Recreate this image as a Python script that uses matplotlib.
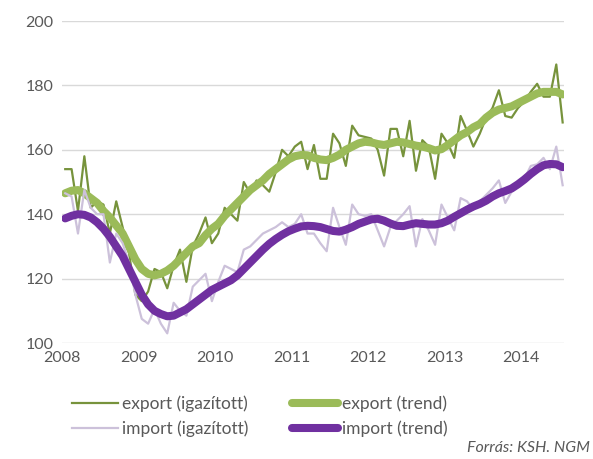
import numpy as np
import matplotlib
matplotlib.use("Agg")
import matplotlib.pyplot as plt

# monthly data, 2008 Jan - 2014 Jul
start_year = 2008

export_adj = [154, 154, 141, 158, 142, 144, 143, 134, 144, 136,
              128, 115, 113, 116, 123, 122, 117, 124, 129, 119,
              130, 134, 139, 131, 134, 142, 140, 138, 150, 146.5,
              150.5, 149, 147, 153, 160, 158, 161, 162.5, 154, 161.5,
              151, 151, 165, 162, 155, 167.5, 164.5, 164, 163.5, 160,
              152, 166.5, 166.5, 158, 169, 153.5, 163, 161, 151, 165,
              162, 157.5, 170.5, 166, 161, 165, 170, 173, 178.5, 170.5,
              170, 173, 175, 178, 180.5, 176.5, 176.5, 186.5, 168.5]

export_trend = [146.5, 147.3, 147.5, 146.5, 145, 143.5, 141, 139, 136.5, 134,
                130, 126, 123, 121.5, 121, 121.5, 122.5, 124, 126, 128,
                130, 131, 133.5, 135.5, 137, 139.5, 141.5, 143.5, 145.5, 147.5,
                149, 150.5, 152.5, 154, 155.5, 157, 158, 158.4, 158.3, 157.5,
                157, 156.8, 157.5, 158.5, 160, 161, 162, 162.5, 162.3, 161.8,
                161.5, 162, 162.5, 162.3, 161.8, 161.3, 161, 160.5, 159.8, 160.2,
                161.5, 163, 164.5, 165.5, 167, 168, 170, 171.5, 172.5, 173,
                173.5, 174.5, 175.5, 176.5, 177.5, 178, 178, 178, 177.2]

import_adj = [146.5, 145.5, 134, 147.5, 142, 140, 140, 125, 134, 131,
              125, 115, 107.5, 106, 110.5, 106, 103, 112.5, 110, 108.5,
              117.5, 119.5, 121.5, 113, 119, 124, 123, 122, 129, 130,
              132, 134, 135, 136, 137.5, 136, 137, 140, 134, 134,
              131, 128.5, 142, 136, 130.5, 143, 140, 139.5, 140, 135,
              130, 136, 138, 140, 142.5, 130, 138.5, 135, 130.5, 143,
              139, 135, 145, 144, 141.5, 144, 146, 148, 150.5, 143.5,
              147, 149, 151, 155, 155.5, 157.5, 154, 161, 149]

import_trend = [138.7, 139.5, 140, 139.8, 139, 137.5, 135.5, 133, 130, 127,
                123, 119, 115, 112, 110, 109, 108.3, 108.5, 109.5, 110.5,
                112, 113.5, 115, 116.5, 117.5, 118.5, 119.5, 121, 123, 125,
                127, 129, 130.8, 132.3, 133.6, 134.7, 135.5, 136.2, 136.4, 136.3,
                136, 135.4, 134.8, 134.6, 135.2, 136, 137, 137.7, 138.4, 138.6,
                138, 137.1, 136.4, 136.3, 136.8, 137.2, 137, 136.8, 136.8, 137.2,
                138, 139.2, 140.3, 141.4, 142.4, 143.2, 144.2, 145.5, 146.5, 147.2,
                148, 149.3, 150.8, 152.5, 154, 155.2, 155.6, 155.5, 154.6]

year_ticks = [2008, 2009, 2010, 2011, 2012, 2013, 2014]
y_ticks = [100, 120, 140, 160, 180, 200]

# mid-month positions on a year scale
months = np.arange(len(export_adj))
x = start_year + (months + 0.5) / 12.0

plt.rcParams["font.family"] = ["Lato", "DejaVu Sans"]
text_color = "#595959"

fig = plt.figure(figsize=(5.93, 4.59), dpi=100)
ax = fig.add_axes([0.1046, 0.2527, 0.8466, 0.7015])

ax.plot(x, export_adj, color="#77933C", lw=1.6, label="export (igazított)", zorder=3)
ax.plot(x, export_trend, color="#9BBB59", lw=5.8, solid_capstyle="round",
        label="export (trend)", zorder=4)
ax.plot(x, import_adj, color="#CCC1DA", lw=1.6, label="import (igazított)", zorder=5)
ax.plot(x, import_trend, color="#7030A0", lw=5.8, solid_capstyle="round",
        label="import (trend)", zorder=6)

ax.set_xlim(2008, 2014.56)
ax.set_ylim(100, 200)
ax.set_xticks(year_ticks)
ax.set_yticks(y_ticks)
ax.tick_params(axis="both", length=0, labelsize=11.5, colors=text_color, pad=6)
ax.grid(axis="y", color="#D9D9D9", lw=1)
ax.set_axisbelow(True)
for s in ax.spines.values():
    s.set_visible(False)

# legend: two columns under the plot
h, l = ax.get_legend_handles_labels()
order = [0, 2, 1, 3]
fig.legend([h[i] for i in order], [l[i] for i in order], ncol=2,
           loc="upper left", bbox_to_anchor=(0.121, 0.139),
           frameon=False, fontsize=12.5, handlelength=2.65, handletextpad=0.25,
           columnspacing=2.5, labelspacing=0.5, labelcolor=text_color,
           borderaxespad=0, borderpad=0)

fig.text(0.995, 0.008, "Forrás: KSH. NGM", ha="right", va="bottom",
         style="italic", fontsize=11.5, color=text_color)

plt.savefig("out.png", dpi=100)
plt.close()
